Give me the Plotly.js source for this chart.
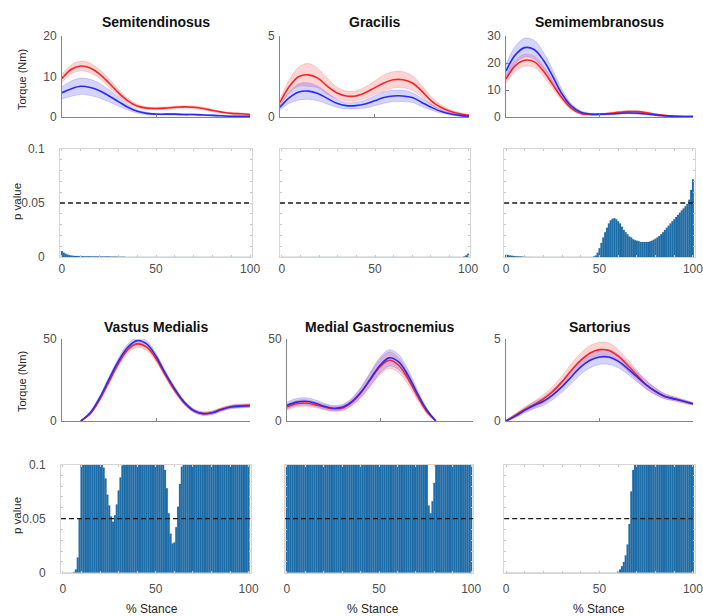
<!DOCTYPE html>
<html><head><meta charset="utf-8">
<script src="https://cdn.plot.ly/plotly-3.0.1.min.js"></script>
<style>html,body{margin:0;padding:0;background:#fff}#chart{width:703px;height:616px}</style>
</head><body><div id="chart"></div>
<script>
// ---------- DATA ----------
const titles = ['Semitendinosus','Gracilis','Semimembranosus','Vastus Medialis','Medial Gastrocnemius','Sartorius'];
const pct = [0,5,10,15,20,25,30,35,40,45,50,55,60,65,70,75,80,85,90,95,100];
const pctP = [0,1,2,3,4,5,6,7,8,9,10,11,12,13,14,15,16,17,18,19,20,21,22,23,24,25,26,27,28,29,30,31,32,33,34,35,36,37,38,39,40,41,42,43,44,45,46,47,48,49,50,51,52,53,54,55,56,57,58,59,60,61,62,63,64,65,66,67,68,69,70,71,72,73,74,75,76,77,78,79,80,81,82,83,84,85,86,87,88,89,90,91,92,93,94,95,96,97,98,99,100];
const alpha = 0.05;

// Semitendinosus torque
const stRed    = [9.5,11.8,12.6,12.1,10.6,8.4,6.0,4.0,2.7,2.2,2.1,2.2,2.4,2.5,2.4,2.1,1.6,1.2,0.9,0.8,0.6];
const stRedSd  = [1.0,1.1,1.2,1.2,1.1,1.0,0.8,0.6,0.4,0.3,0.3,0.3,0.3,0.3,0.3,0.3,0.3,0.2,0.2,0.2,0.2];
const stBlue   = [6.0,7.0,7.6,7.3,6.5,5.2,3.8,2.4,1.4,0.9,0.7,0.7,0.7,0.6,0.6,0.5,0.4,0.3,0.2,0.2,0.2];
const stBlueSd = [1.5,1.9,2.0,2.0,1.8,1.5,1.1,0.7,0.4,0.3,0.2,0.2,0.2,0.2,0.2,0.2,0.15,0.1,0.1,0.1,0.1];
// Gracilis torque
const grRed    = [0.9,1.9,2.5,2.6,2.4,1.9,1.5,1.3,1.3,1.5,1.8,2.1,2.3,2.3,2.1,1.6,1.0,0.6,0.35,0.2,0.1];
const grRedSd  = [0.2,0.4,0.6,0.7,0.6,0.5,0.35,0.3,0.3,0.35,0.4,0.5,0.5,0.5,0.45,0.35,0.25,0.15,0.1,0.08,0.05];
const grBlue   = [0.6,1.2,1.55,1.6,1.45,1.15,0.85,0.7,0.7,0.8,1.0,1.2,1.3,1.3,1.2,0.9,0.6,0.35,0.2,0.1,0.05];
const grBlueSd = [0.15,0.35,0.5,0.5,0.45,0.35,0.25,0.2,0.2,0.25,0.3,0.35,0.35,0.35,0.3,0.25,0.18,0.1,0.07,0.05,0.03];
// Semimembranosus torque
const smRed    = [14,19,21,20.5,17,12,7,3.2,1.3,0.9,1.0,1.3,1.7,2.0,2.0,1.6,1.0,0.6,0.3,0.2,0.2];
const smRedSd  = [1.5,2.0,2.2,2.1,1.9,1.5,1.0,0.6,0.3,0.2,0.2,0.3,0.4,0.4,0.4,0.3,0.2,0.1,0.1,0.1,0.1];
const smBlue   = [17,23,25.7,25,21,15,8.5,4,1.8,1.1,1.0,1.1,1.3,1.5,1.4,1.1,0.7,0.4,0.3,0.2,0.2];
const smBlueSd = [2.5,3.2,3.5,3.4,3.0,2.4,1.6,0.9,0.5,0.3,0.3,0.3,0.3,0.3,0.3,0.3,0.2,0.1,0.1,0.1,0.1];
// Vastus Medialis torque
const vmRed    = [null,null,0,4.5,13,24,35,43.5,47,45,38,28,18.5,11,6.2,4.5,5.2,7.3,8.8,9.3,9.5];
const vmRedSd  = [null,null,0,0.8,1.2,1.5,1.8,2,2,2,1.8,1.5,1.3,1.1,1,1,1,1,1,1,1];
const vmBlue   = [null,null,0,5,14,25.5,36.5,45,49,47,39.5,29,19.5,11.5,6.5,4.5,5,7,8.5,9,9.3];
const vmBlueSd = [null,null,0,0.8,1.2,1.5,1.8,2,2,2,1.8,1.5,1.3,1.1,1,1,1,1,1,1,1];
// Medial Gastrocnemius torque
const mgRed    = [8.5,10.5,11,10,8.5,7.5,8,11.5,17.5,25.5,33,37,34,26,15.5,6,0,null,null,null,null];
const mgRedSd  = [1.8,2,2,1.8,1.6,1.5,1.6,2,3,4,4.8,5,4.6,3.6,2.4,1.2,0,null,null,null,null];
const mgBlue   = [9.5,11.5,12,11,9,7.8,8.5,12,18,26,34,38.5,36,28,17,7,0,null,null,null,null];
const mgBlueSd = [2,2.2,2.2,2,1.8,1.6,1.7,2.1,3,4,4.8,5,4.6,3.6,2.4,1.2,0,null,null,null,null];
// Sartorius torque
const saRed    = [0,0.35,0.7,1.0,1.35,1.8,2.4,3.1,3.7,4.15,4.35,4.3,3.95,3.4,2.8,2.2,1.8,1.5,1.35,1.2,1.05];
const saRedSd  = [0.02,0.1,0.15,0.2,0.25,0.3,0.35,0.4,0.45,0.45,0.45,0.45,0.4,0.35,0.3,0.25,0.2,0.15,0.12,0.1,0.08];
const saBlue   = [0,0.3,0.65,0.95,1.2,1.6,2.1,2.7,3.3,3.7,3.9,3.9,3.65,3.2,2.7,2.2,1.8,1.5,1.35,1.2,1.05];
const saBlueSd = [0.02,0.1,0.15,0.2,0.25,0.3,0.35,0.4,0.45,0.45,0.45,0.45,0.4,0.35,0.3,0.25,0.2,0.15,0.12,0.1,0.08];

// p values (0..100 % stance)
const pST = [0.0055,0.004,0.003,0.0022,0.0017,0.0013,0.0011,0.001,0.0009,0.0008,
  0.0007,0.0007,0.0006,0.0006,0.0006,0.0006,0.0005,0.0005,0.0005,0.0005,
  0.0005,0.0004,0.0004,0.0004,0.0004,0.0004,0.0003,0.0003,0.0003,0.0003,
  0.0002,0.0002,0.0002,0.0002,0,0,0,0,0,0,
  0,0,0,0,0,0,0,0,0,0,
  0,0,0,0,0,0,0,0,0,0,
  0,0,0,0,0,0,0,0,0,0,
  0,0,0,0,0,0,0,0,0,0,
  0,0,0,0,0,0,0,0,0,0,
  0,0,0,0,0,0,0,0,0,0,
  0];
const pGR = [0,0,0,0,0,0,0,0,0,0,
  0,0,0,0,0,0,0,0,0,0,
  0,0,0,0,0,0,0,0,0,0,
  0,0,0,0,0,0,0,0,0,0,
  0,0,0,0,0,0,0,0,0,0,
  0,0,0,0,0,0,0,0,0,0,
  0,0,0,0,0,0,0,0,0,0,
  0,0,0,0,0,0,0,0,0,0,
  0,0,0,0,0,0,0,0,0,0,
  0,0,0,0,0,0,0,0,0.0005,0.0015,
  0.003];
const pSM = [0.002,0.0018,0.0015,0.0012,0.001,0.0008,0.0006,0.0005,0.0004,0.0003,
  0.0002,0.0001,0.0001,0.0001,0.0001,0,0,0,0,0,
  0,0,0,0,0,0,0,0,0,0,
  0,0,0,0,0,0,0,0,0,0,
  0,0,0,0,0,0,0,0.0005,0.0015,0.004,
  0.008,0.013,0.018,0.023,0.027,0.031,0.034,0.0355,0.0358,0.035,
  0.033,0.031,0.028,0.025,0.023,0.021,0.019,0.018,0.0165,0.0155,
  0.015,0.0145,0.014,0.0139,0.0138,0.0138,0.014,0.0143,0.015,0.016,
  0.017,0.018,0.0195,0.021,0.023,0.025,0.027,0.029,0.031,0.033,
  0.035,0.037,0.039,0.041,0.043,0.045,0.047,0.049,0.053,0.062,
  0.072];
const pVM = [0,0,0,0,0,0,0.0005,0.003,0.014,0.05,
  0.12,0.2,0.3,0.4,0.5,0.5,0.45,0.4,0.3,0.22,
  0.16,0.12,0.097,0.087,0.072,0.062,0.052,0.047,0.053,0.063,
  0.076,0.088,0.099,0.13,0.2,0.3,0.4,0.5,0.6,0.65,
  0.7,0.7,0.65,0.6,0.5,0.4,0.32,0.25,0.2,0.16,
  0.14,0.12,0.11,0.105,0.102,0.095,0.078,0.055,0.036,0.027,
  0.028,0.042,0.061,0.082,0.098,0.12,0.15,0.2,0.25,0.3,
  0.35,0.4,0.45,0.5,0.55,0.6,0.6,0.6,0.55,0.5,
  0.45,0.4,0.4,0.45,0.5,0.55,0.6,0.65,0.7,0.7,
  0.7,0.7,0.65,0.6,0.6,0.6,0.6,0.6,0.6,0.6,
  0.6];
const pMG = [0.8,0.75,0.7,0.65,0.6,0.6,0.65,0.7,0.75,0.8,
  0.8,0.75,0.7,0.6,0.5,0.45,0.4,0.4,0.45,0.5,
  0.55,0.6,0.65,0.7,0.75,0.8,0.85,0.85,0.8,0.75,
  0.7,0.65,0.6,0.55,0.5,0.5,0.5,0.55,0.6,0.65,
  0.7,0.75,0.8,0.85,0.9,0.9,0.85,0.8,0.75,0.7,
  0.65,0.6,0.55,0.5,0.45,0.4,0.4,0.4,0.4,0.35,
  0.35,0.3,0.3,0.28,0.25,0.22,0.2,0.18,0.16,0.15,
  0.14,0.13,0.12,0.115,0.11,0.105,0.102,0.062,0.055,0.066,
  0.083,0.105,0.12,0.14,0.17,0.2,0.25,0.3,0.35,0.4,
  0.45,0.5,0.55,0.6,0.6,0.6,0.6,0.6,0.6,0.6,
  0.6];
const pSA = [0,0,0,0,0,0,0,0,0,0,
  0,0,0,0,0,0,0,0,0,0,
  0,0,0,0,0,0,0,0,0,0,
  0,0,0,0,0,0,0,0,0,0,
  0,0,0,0,0,0,0,0,0,0,
  0,0,0,0,0,0,0,0,0,0,
  0.001,0.003,0.006,0.01,0.016,0.026,0.045,0.075,0.095,0.12,
  0.15,0.2,0.25,0.3,0.35,0.4,0.45,0.5,0.55,0.6,
  0.65,0.7,0.75,0.8,0.85,0.9,0.9,0.9,0.9,0.9,
  0.9,0.9,0.9,0.9,0.9,0.9,0.9,0.9,0.9,0.9,
  0.9];

const torqueMax = [20,5,30,50,50,5];
const torqueTicks = [[0,10,20],[0,5],[0,10,20,30],[0,50],[0,50],[0,5]];
const pTicks = [0,0.05,0.1];
const pTickText = ['0','0.05','0.1'];
const stanceTicks = [0,50,100];

// ---------- BUILD ----------
const panels = [
  {red:stRed, redSd:stRedSd, blue:stBlue, blueSd:stBlueSd, p:pST},
  {red:grRed, redSd:grRedSd, blue:grBlue, blueSd:grBlueSd, p:pGR},
  {red:smRed, redSd:smRedSd, blue:smBlue, blueSd:smBlueSd, p:pSM},
  {red:vmRed, redSd:vmRedSd, blue:vmBlue, blueSd:vmBlueSd, p:pVM},
  {red:mgRed, redSd:mgRedSd, blue:mgBlue, blueSd:mgBlueSd, p:pMG},
  {red:saRed, redSd:saRedSd, blue:saBlue, blueSd:saBlueSd, p:pSA}
];

// layout positions in pixels
const W = 703, H = 616;
const torqueX = [[62,250],[280,469],[506,693],[62,250],[287,473],[506,693]];
const pX      = [[60,252],[280,470],[504.2,694.8],[61,250.5],[285,473],[504.2,694.8]];
const torqueY = [[36,117],[339,421]];
const pY      = [[149,257],[464.5,572.7]];
const fx = d => [d[0]/W, d[1]/W];
const fy = d => [1 - d[1]/H, 1 - d[0]/H];

const FONT = 'Liberation Sans, Arial, Helvetica, sans-serif';
const tickFont = {family: FONT, size: 12, color: '#4d4d4d'};
const BAR = '#2072ae';

const traces = [];
const layout = {
  width: W, height: H,
  margin: {l:0, r:0, t:0, b:0},
  paper_bgcolor: '#fff', plot_bgcolor: 'rgba(0,0,0,0)',
  showlegend: false, bargap: 0,
  annotations: [], shapes: []
};

function band(xs, mean, sd, axX, axY, fillColor, edgeColor) {
  const idx = mean.map((v,i)=>v===null?-1:i).filter(i=>i>=0);
  const x = idx.map(i=>xs[i]);
  const lo = idx.map(i=>Math.max(0, mean[i]-sd[i]));
  const hi = idx.map(i=>mean[i]+sd[i]);
  traces.push({type:'scatter', mode:'lines', x, y:lo, xaxis:axX, yaxis:axY,
    line:{color:edgeColor, width:0.6, shape:'spline'}, hoverinfo:'skip'});
  traces.push({type:'scatter', mode:'lines', x, y:hi, xaxis:axX, yaxis:axY, fill:'tonexty',
    fillcolor:fillColor, line:{color:edgeColor, width:0.6, shape:'spline'}, hoverinfo:'skip'});
}
function meanLine(xs, mean, axX, axY, color) {
  const idx = mean.map((v,i)=>v===null?-1:i).filter(i=>i>=0);
  traces.push({type:'scatter', mode:'lines', x: idx.map(i=>xs[i]), y: idx.map(i=>mean[i]),
    xaxis:axX, yaxis:axY, line:{color, width:1.6, shape:'spline'}});
}

panels.forEach((pn, i) => {
  const row = i < 3 ? 0 : 1;
  const col = i % 3;
  const tn = 2*i+1, qn = 2*i+2;
  const tx = tn===1 ? 'x' : 'x'+tn, ty = tn===1 ? 'y' : 'y'+tn;
  const qx = 'x'+qn, qy = 'y'+qn;

  band(pct, pn.red, pn.redSd, tx, ty, 'rgba(255,60,60,0.22)', 'rgba(255,60,60,0.35)');
  band(pct, pn.blue, pn.blueSd, tx, ty, 'rgba(60,60,255,0.22)', 'rgba(60,60,255,0.35)');
  meanLine(pct, pn.red, tx, ty, '#f52525');
  meanLine(pct, pn.blue, tx, ty, '#2a2af5');

  traces.push({type:'bar', x: pctP, y: pn.p, xaxis: qx, yaxis: qy, width: 1,
    marker:{color: BAR, line:{width:0.4, color:'rgba(10,60,110,0.35)'}}});

  layout[tn===1?'xaxis':'xaxis'+tn] = {
    domain: fx(torqueX[i]), anchor: ty, range:[0,100], showgrid:false, zeroline:false,
    showline:true, linecolor:'#858585', linewidth:1, ticks:'inside', ticklen:3, tickcolor:'#858585',
    tickvals: stanceTicks, showticklabels:false, fixedrange:true
  };
  layout[tn===1?'yaxis':'yaxis'+tn] = {
    domain: fy(torqueY[row]), anchor: tx, range:[0, torqueMax[i]], showgrid:false, zeroline:false,
    showline:true, linecolor:'#858585', linewidth:1, ticks:'inside', ticklen:3, tickcolor:'#858585',
    tickvals: torqueTicks[i], tickfont: tickFont, ticklabelstandoff: 2, ticklabeloverflow:'allow',
    fixedrange:true
  };
  layout['xaxis'+qn] = {
    domain: fx(pX[i]), anchor: qy, range:[-1,101], showgrid:false, zeroline:false,
    showline:true, mirror:'ticks', linecolor:'#d6d6d6', linewidth:1,
    ticks:'inside', ticklen:2, tickcolor:'#c8c8c8', tickvals: stanceTicks, tickfont: tickFont,
    ticklabelstandoff: row===0 ? 1 : 5, ticklabeloverflow:'allow',
    minor:{tick0:0, dtick:10, ticks:'inside', ticklen:2, tickcolor:'#c8c8c8', showgrid:false},
    fixedrange:true
  };
  layout['yaxis'+qn] = {
    domain: fy(pY[row]), anchor: qx, range:[0,0.1], showgrid:false, zeroline:false,
    showline:true, mirror:'ticks', linecolor:'#d6d6d6', linewidth:1,
    ticks:'inside', ticklen:2, tickcolor:'#c8c8c8', tickvals: pTicks, ticktext: pTickText,
    showticklabels: col===0, tickfont: tickFont, ticklabelstandoff: 12, ticklabeloverflow:'allow',
    minor:{tick0:0, dtick:0.01, ticks:'inside', ticklen:2, tickcolor:'#c8c8c8', showgrid:false},
    fixedrange:true
  };

  layout.shapes.push({type:'line', xref: qx+' domain', x0:0, x1:1, yref: qy, y0: alpha, y1: alpha,
    line:{color:'#1a1a1a', width:1.3, dash:'5px,3px'}, layer:'above'});

  // subplot title
  const cx = (torqueX[i][0]+torqueX[i][1])/2;
  layout.annotations.push({xref:'paper', yref:'paper', x: cx/W, y: 1-(row===0?22:327)/H,
    text:'<b>'+titles[i]+'</b>', showarrow:false, xanchor:'center', yanchor:'middle',
    font:{family:FONT, size:14, color:'#111'}});

  if (col === 0) {
    layout.annotations.push({xref:'paper', yref:'paper', x: 22/W, y: 1-(row===0?80:382)/H,
      text:'Torque (Nm)', textangle:-90, showarrow:false, xanchor:'center', yanchor:'middle',
      font:{family:FONT, size:11, color:'#262626'}});
    layout.annotations.push({xref:'paper', yref:'paper', x: 17/W, y: 1-(row===0?202:516)/H,
      text:'p value', textangle:-90, showarrow:false, xanchor:'center', yanchor:'middle',
      font:{family:FONT, size:11.5, color:'#262626'}});
  }
  if (row === 1) {
    const sx = [152,373,599][col];
    layout.annotations.push({xref:'paper', yref:'paper', x: sx/W, y: 1-609/H,
      text:'% Stance', showarrow:false, xanchor:'center', yanchor:'middle',
      font:{family:FONT, size:12, color:'#262626'}});
  }
});

Plotly.newPlot('chart', traces, layout, {displayModeBar:false, staticPlot:true});
</script>
</body></html>
